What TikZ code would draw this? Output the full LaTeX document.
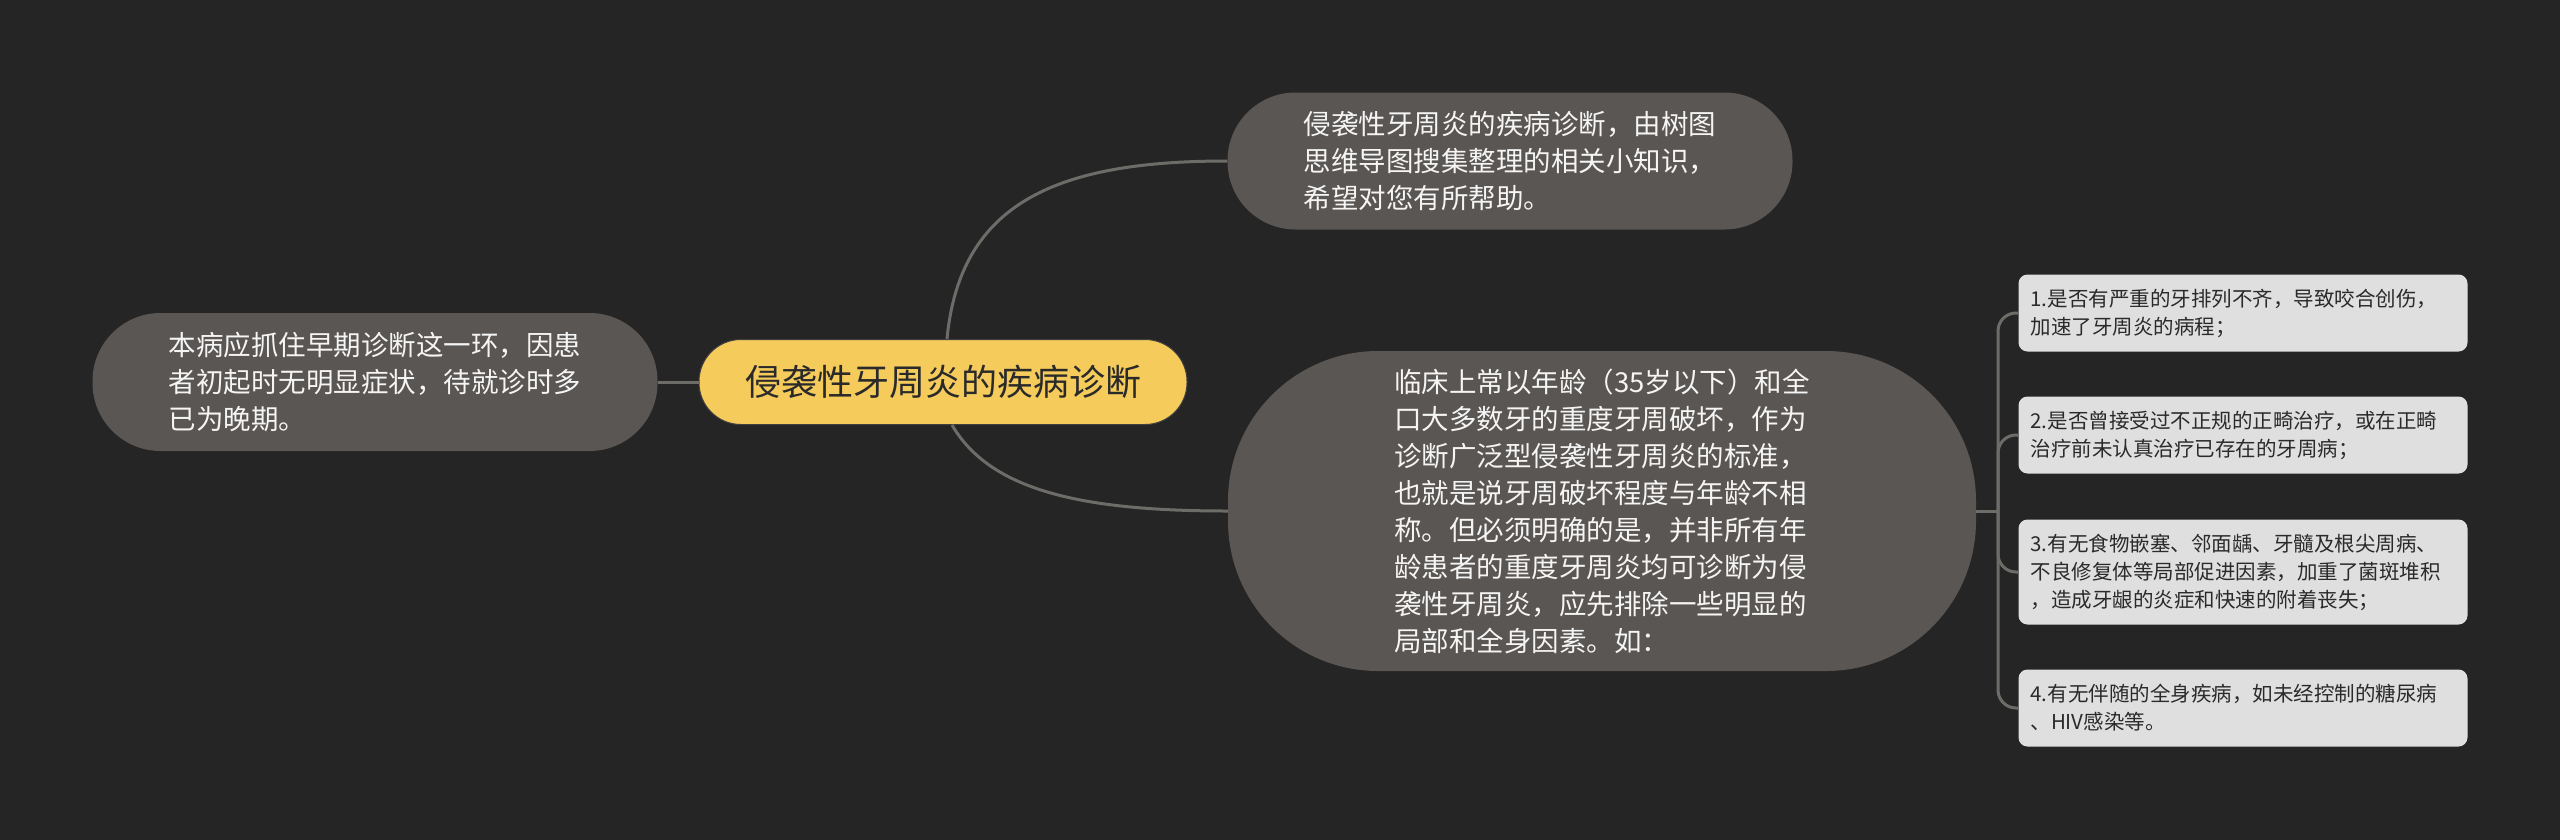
\documentclass[tikz,border=0pt]{standalone}
\usepackage{fontspec}
\setmainfont{Noto Sans CJK SC}
\usepackage{xcolor}
\usepackage{tikz}

\definecolor{bgdark}{HTML}{252525}
\definecolor{topicgray}{HTML}{5A5653}
\definecolor{rootyellow}{HTML}{F5CB5C}
\definecolor{leafgray}{HTML}{DFDFDF}
\definecolor{linkgray}{HTML}{6E6C69}
\definecolor{darktext}{HTML}{2A2A2A}

\tikzset{
  root/.style={fill=rootyellow, draw=black!75, line width=1pt, text=darktext, rounded corners=42pt,
    minimum width=488pt, minimum height=85pt, inner sep=0pt, font=\fontsize{36}{44}\selectfont},
  topic/.style={fill=topicgray, text=white!96!black, align=left, inner sep=0pt,
    font=\fontsize{27.5}{37}\selectfont},
  leaf/.style={fill=leafgray, text=darktext, align=left, rounded corners=9pt, text width=425pt,
    inner xsep=12pt, inner ysep=0pt, font=\fontsize{20.5}{28}\selectfont},
  link/.style={draw=linkgray, line width=3pt}
}

\begin{document}
\begin{tikzpicture}[x=1pt,y=-1pt]
  % Background
  \useasboundingbox (0,0) rectangle (2560,839);
  \fill[bgdark] (-2,-2) rectangle (2562,841);

  % Central topic
  \node[root] (root) at (943,382) {侵袭性牙周炎的疾病诊断};

  % Main topics
  \node[topic, rounded corners=68pt, minimum width=565pt, minimum height=137pt] (topnote) at (1510,161)
    {侵袭性牙周炎的疾病诊断，由树图\\思维导图搜集整理的相关小知识，\\希望对您有所帮助。};
  \node[topic, rounded corners=68pt, minimum width=565pt, minimum height=138pt] (leftnote) at (375,382)
    {本病应抓住早期诊断这一环，因患\\者初起时无明显症状，待就诊时多\\已为晚期。};
  \node[topic, rounded corners=150pt, minimum width=748pt, minimum height=320pt] (mainnote) at (1602,511)
    {临床上常以年龄（35岁以下）和全\\口大多数牙的重度牙周破坏，作为\\诊断广泛型侵袭性牙周炎的标准，\\也就是说牙周破坏程度与年龄不相\\称。但必须明确的是，并非所有年\\龄患者的重度牙周炎均可诊断为侵\\袭性牙周炎，应先排除一些明显的\\局部和全身因素。如：};

  % Sub topics
  \node[leaf, minimum height=77pt] (leaf1) at (2243,313)
    {1.是否有严重的牙排列不齐，导致咬合创伤，\\加速了牙周炎的病程；};
  \node[leaf, minimum height=77pt] (leaf2) at (2243,435)
    {2.是否曾接受过不正规的正畸治疗，或在正畸\\治疗前未认真治疗已存在的牙周病；};
  \node[leaf, minimum height=105pt] (leaf3) at (2243,572)
    {3.有无食物嵌塞、邻面龋、牙髓及根尖周病、\\不良修复体等局部促进因素，加重了菌斑堆积\\，造成牙龈的炎症和快速的附着丧失；};
  \node[leaf, minimum height=77pt] (leaf4) at (2243,708)
    {4.有无伴随的全身疾病，如未经控制的糖尿病\\、HIV感染等。};

  % Connectors
  \draw[link] (root.west) -- (leftnote.east);
  \draw[link] ([xshift=4pt]root.north) .. controls +(13,-138) and +(-168,0) .. (topnote.west);
  \draw[link] ([xshift=9pt]root.south) .. controls +(38,65) and +(-148,0) .. (mainnote.west);

  \coordinate (fork) at (1998,511);
  \draw[link] (mainnote.east) -- (fork);
  \foreach \i in {1,...,4}
    \draw[link, rounded corners=18pt] (fork) |- (leaf\i.west);

\end{tikzpicture}
\end{document}
